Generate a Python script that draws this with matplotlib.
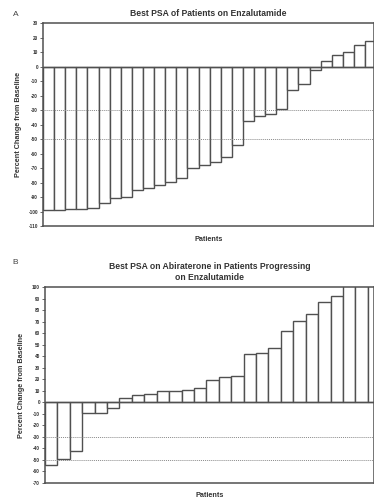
import matplotlib
matplotlib.use("Agg")
import matplotlib.pyplot as plt
import numpy as np

plt.rcParams['font.family'] = ['Liberation Sans', 'DejaVu Sans']

# Panel A: best PSA change on enzalutamide (%)
enza_change = [-99, -99, -98.5, -98, -97.5, -94, -91, -90, -85, -84,
               -82, -79.5, -77, -70, -68, -66, -62, -54, -37.5, -34,
               -32.5, -29.5, -16, -12, -2.5, 4, 8, 10, 15, 18]
enza_ticks = list(range(30, -111, -10))

# Panel B: best PSA change on abiraterone after enzalutamide (%)
abi_change = [-55, -49, -42, -9, -9, -5, 4, 6, 7, 9.5,
              9.5, 11, 12.5, 19, 22, 23, 42, 42.5, 47.5, 62,
              71, 77, 87.5, 92, 150, 150, 150]
abi_ticks = list(range(100, -71, -10))

edge = '#505050'
W, H = 374, 499
fig = plt.figure(figsize=(W / 100, H / 100), dpi=100)


def panel(rect, values, ticks, ylim, xmax, title, letter, letter_xy):
    ax = fig.add_axes(rect)
    x = np.arange(1, len(values) + 1)
    ax.bar(x, values, width=1.0, color='white', edgecolor=edge, linewidth=1.0, zorder=2)
    ax.axhline(0, color=edge, linewidth=1.0, zorder=3)
    # response thresholds drawn over the bars
    for ref in (-30, -50):
        ax.axhline(ref, color='#8a8a8a', linewidth=0.7, linestyle=(0, (1, 1)), zorder=4)
    ax.set_xlim(0.5, xmax)
    ax.set_ylim(*ylim)
    ax.set_yticks(ticks)
    ax.set_yticklabels([str(t) for t in ticks], fontsize=3.4, fontweight='bold', color='#333333')
    ax.set_xticks([])
    ax.tick_params(axis='y', length=2, width=0.6, color=edge, pad=1.5)
    for side in ('left', 'top', 'bottom', 'right'):
        ax.spines[side].set_color(edge)
        ax.spines[side].set_linewidth(1.1)
    ax.set_ylabel('Percent Change from Baseline', fontsize=5.2, fontweight='bold',
                  color='#333333', labelpad=5)
    ax.set_xlabel('Patients', fontsize=5.2, fontweight='bold', color='#333333', labelpad=7)
    ax.set_title(title, fontsize=6.2, fontweight='bold', color='#333333', pad=5,
                 linespacing=1.4)
    fig.text(letter_xy[0] / W, 1 - letter_xy[1] / H, letter, fontsize=6,
             color='#444444', ha='center', va='center')
    return ax


panel([43 / W, 1 - 226 / H, (374 - 43) / W, (226 - 23.3) / H],
      enza_change, enza_ticks, (-110, 30), 30.3,
      'Best PSA of Patients on Enzalutamide', 'A', (16, 14))

panel([45 / W, 1 - 482.7 / H, (374 - 45) / W, (482.7 - 287.3) / H],
      abi_change, abi_ticks, (-70, 100), 27.0,
      'Best PSA on Abiraterone in Patients Progressing\non Enzalutamide', 'B', (15, 263))

fig.savefig('out.png', dpi=100)
